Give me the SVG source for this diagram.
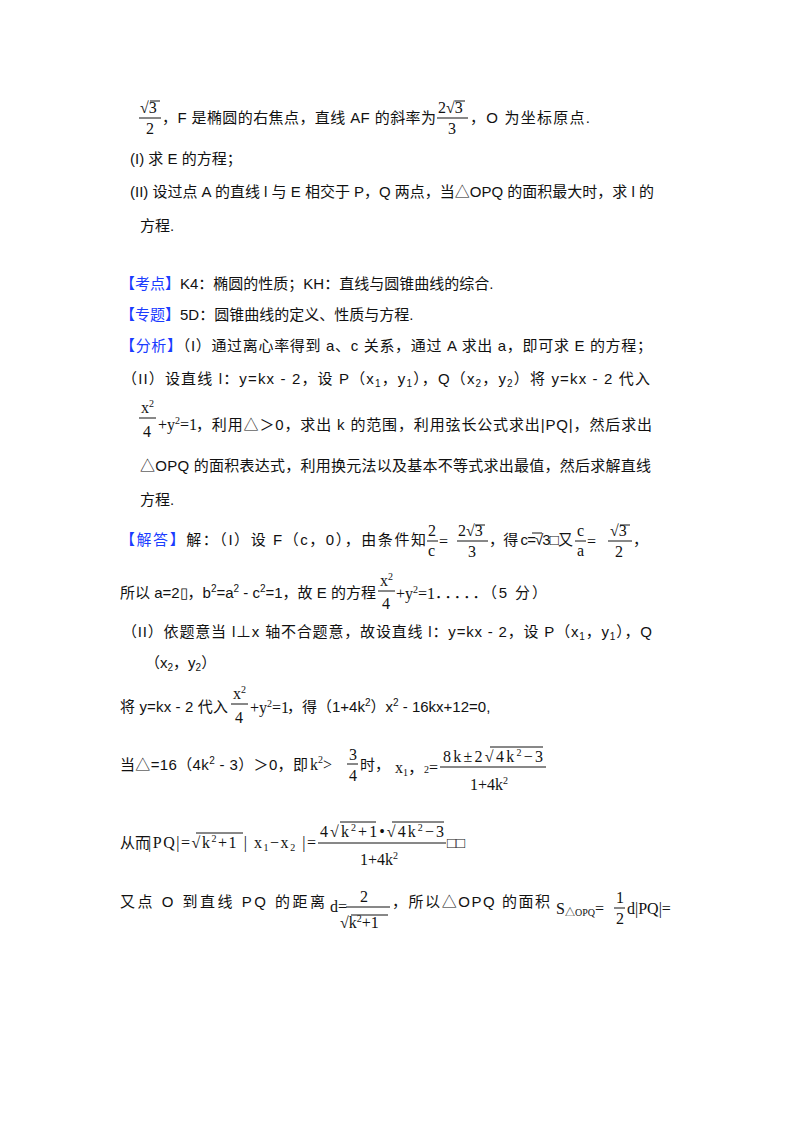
<svg xmlns="http://www.w3.org/2000/svg" width="800" height="1132" viewBox="0 0 800 1132">
<style>
text{font-family:"Liberation Sans","Noto Sans CJK SC",sans-serif;font-size:15px;fill:#111}
.m{font-family:"Liberation Serif","Noto Sans CJK SC",serif;font-size:16px}
.s{font-size:10px}
.b{fill:#1a3cff}
line{stroke:#111;stroke-width:1}
</style>
<rect width="800" height="1132" fill="#fff"/>
<g id="l1">
<text class="m" x="140" y="113">√3</text><line x1="150" y1="101" x2="160" y2="101"/><line x1="139" y1="118" x2="161" y2="118"/><text class="m" x="146" y="134">2</text>
<text x="162" y="123" textLength="274">，F 是椭圆的右焦点，直线 AF 的斜率为</text>
<text class="m" x="438" y="113">2√3</text><line x1="455" y1="101" x2="465" y2="101"/><line x1="437" y1="118" x2="468" y2="118"/><text class="m" x="448" y="134">3</text>
<text x="470" y="123" textLength="120">，O 为坐标原点.</text>
</g>
<g id="l2"><text x="130" y="164">(I) 求 E 的方程；</text></g>
<g id="l3"><text x="130" y="197" textLength="524">(II) 设过点 A 的直线 l 与 E 相交于 P，Q 两点，当△OPQ 的面积最大时，求 l 的</text></g>
<g id="l4"><text x="140" y="231">方程.</text></g>
<g id="l5"><text x="120" y="289"><tspan class="b">【考点】</tspan>K4：椭圆的性质；KH：直线与圆锥曲线的综合.</text></g>
<g id="l6"><text x="120" y="320"><tspan class="b">【专题】</tspan>5D：圆锥曲线的定义、性质与方程.</text></g>
<g id="l7"><text x="120" y="351" textLength="532"><tspan class="b">【分析】</tspan>（I）通过离心率得到 a、c 关系，通过 A 求出 a，即可求 E 的方程；</text></g>
<g id="l8"><text x="122" y="384" textLength="528">（II）设直线 l：y=kx - 2，设 P（x<tspan class="s" dy="3">1</tspan><tspan dy="-3">，y</tspan><tspan class="s" dy="3">1</tspan><tspan dy="-3">），Q（x</tspan><tspan class="s" dy="3">2</tspan><tspan dy="-3">，y</tspan><tspan class="s" dy="3">2</tspan><tspan dy="-3">）将 y=kx - 2 代入</tspan></text></g>
<g id="l9">
<text class="m" x="141" y="413">x<tspan class="s" dy="-6">2</tspan></text><line x1="139" y1="418" x2="156" y2="418"/><text class="m" x="143" y="437">4</text>
<text class="m" x="158" y="430">+y<tspan class="s" dy="-6">2</tspan><tspan dy="6">=1</tspan></text>
<text x="196" y="430" textLength="456">，利用△＞0，求出 k 的范围，利用弦长公式求出|PQ|，然后求出</text>
</g>
<g id="l10"><text x="140" y="471" textLength="511">△OPQ 的面积表达式，利用换元法以及基本不等式求出最值，然后求解直线</text></g>
<g id="l11"><text x="140" y="505">方程.</text></g>
<g id="l12">
<text x="120" y="545" textLength="306"><tspan class="b">【解答】</tspan>解：（I）设 F（c，0），由条件知</text>
<text class="m" x="428" y="536">2</text><line x1="427" y1="541" x2="438" y2="541"/><text class="m" x="428" y="556">c</text>
<text class="m" x="439" y="547">=</text>
<text class="m" x="458" y="536">2√3</text><line x1="475" y1="525" x2="485" y2="525"/><line x1="457" y1="541" x2="488" y2="541"/><text class="m" x="468" y="557">3</text>
<text x="489" y="545" textLength="84">，得 c=√3□又</text><line x1="532" y1="533" x2="542" y2="533"/>
<text class="m" x="577" y="536">c</text><line x1="575" y1="541" x2="586" y2="541"/><text class="m" x="577" y="556">a</text>
<text class="m" x="587" y="547">=</text>
<text class="m" x="610" y="536">√3</text><line x1="620" y1="525" x2="630" y2="525"/><line x1="608" y1="541" x2="632" y2="541"/><text class="m" x="615" y="557">2</text>
<text x="633" y="545">，</text>
</g>
<g id="l13">
<text x="120" y="598" textLength="256">所以 a=2▯，b<tspan class="s" dy="-6">2</tspan><tspan dy="6">=a</tspan><tspan class="s" dy="-6">2</tspan><tspan dy="6"> - c</tspan><tspan class="s" dy="-6">2</tspan><tspan dy="6">=1，故 E 的方程</tspan></text>
<text class="m" x="380" y="586">x<tspan class="s" dy="-6">2</tspan></text><line x1="378" y1="591" x2="395" y2="591"/><text class="m" x="382" y="609">4</text>
<text class="m" x="396" y="599">+y<tspan class="s" dy="-6">2</tspan><tspan dy="6">=1</tspan></text>
<text x="435" y="598" textLength="112">．．．．．（5 分）</text>
</g>
<g id="l14"><text x="122" y="637" textLength="530">（II）依题意当 l⊥x 轴不合题意，故设直线 l：y=kx - 2，设 P（x<tspan class="s" dy="3">1</tspan><tspan dy="-3">，y</tspan><tspan class="s" dy="3">1</tspan><tspan dy="-3">），Q</tspan></text></g>
<g id="l15"><text x="145" y="668">（x<tspan class="s" dy="3">2</tspan><tspan dy="-3">，y</tspan><tspan class="s" dy="3">2</tspan><tspan dy="-3">）</tspan></text></g>
<g id="l16">
<text x="120" y="712" textLength="108">将 y=kx - 2 代入</text>
<text class="m" x="233" y="699">x<tspan class="s" dy="-6">2</tspan></text><line x1="231" y1="704" x2="248" y2="704"/><text class="m" x="235" y="723">4</text>
<text class="m" x="250" y="713">+y<tspan class="s" dy="-6">2</tspan><tspan dy="6">=1</tspan></text>
<text x="287" y="712">，得（1+4k<tspan class="s" dy="-6">2</tspan><tspan dy="6">）x</tspan><tspan class="s" dy="-6">2</tspan><tspan dy="6"> - 16kx+12=0,</tspan></text>
</g>
<g id="l17">
<text x="120" y="770" textLength="188">当△=16（4k<tspan class="s" dy="-6">2</tspan><tspan dy="6"> - 3）＞0，即</tspan></text>
<text class="m" x="310" y="770">k<tspan class="s" dy="-7">2</tspan><tspan dy="7">&gt;</tspan></text>
<text class="m" x="349" y="760">3</text><line x1="347" y1="764" x2="358" y2="764"/><text class="m" x="349" y="781">4</text>
<text x="360" y="770">时，</text>
<text class="m" x="395" y="773">x<tspan class="s" dy="3">1</tspan><tspan dy="-3">，</tspan><tspan class="s">2</tspan><tspan>=</tspan></text>
<text class="m" x="443" y="762" textLength="100">8k±2√4k<tspan class="s" dy="-6">2</tspan><tspan dy="6">−3</tspan></text><line x1="490" y1="747" x2="543" y2="747"/>
<line x1="440" y1="767" x2="546" y2="767"/>
<text class="m" x="470" y="790">1+4k<tspan class="s" dy="-6">2</tspan></text>
</g>
<g id="l18">
<text x="120" y="848">从而</text>
<text class="m" x="148" y="848" textLength="168">|PQ|=√k<tspan class="s" dy="-6">2</tspan><tspan dy="6">+1 | x</tspan><tspan class="s" dy="3">1</tspan><tspan dy="-3">−x</tspan><tspan class="s" dy="3">2</tspan><tspan dy="-3"> |=</tspan></text>
<line x1="196" y1="833" x2="243" y2="833"/>
<text class="m" x="320" y="837" textLength="124">4√k<tspan class="s" dy="-6">2</tspan><tspan dy="6">+1•√4k</tspan><tspan class="s" dy="-6">2</tspan><tspan dy="6">−3</tspan></text>
<line x1="340" y1="822" x2="376" y2="822"/><line x1="392" y1="822" x2="444" y2="822"/>
<line x1="318" y1="843" x2="446" y2="843"/>
<text class="m" x="360" y="865">1+4k<tspan class="s" dy="-6">2</tspan></text>
<text x="447" y="848">□□</text>
</g>
<g id="l19">
<text x="120" y="907" textLength="205">又点 O 到直线 PQ 的距离</text>
<text class="m" x="330" y="912">d=</text>
<text class="m" x="360" y="902">2</text><line x1="346" y1="907" x2="390" y2="907"/>
<text class="m" x="340" y="928">√k<tspan class="s" dy="-6">2</tspan><tspan dy="6">+1</tspan></text><line x1="351" y1="915" x2="388" y2="915"/>
<text x="392" y="907" textLength="158">，所以△OPQ 的面积</text>
<text class="m" x="556" y="914">S<tspan class="s" dy="2">△OPQ</tspan><tspan dy="-2">=</tspan></text>
<text class="m" x="616" y="903">1</text><line x1="614" y1="908" x2="625" y2="908"/><text class="m" x="616" y="924">2</text>
<text class="m" x="627" y="914">d|PQ|=</text>
</g>
</svg>
